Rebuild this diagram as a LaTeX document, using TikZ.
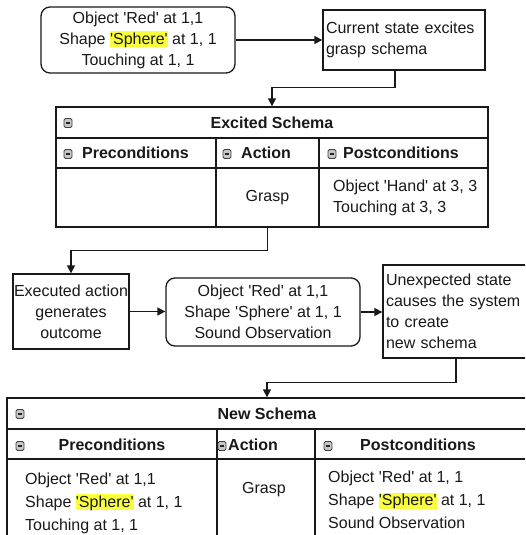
\documentclass[tikz,border=0pt]{standalone}
\usepackage{fontspec}
\setmainfont{Liberation Sans}
\usetikzlibrary{arrows.meta}
\definecolor{hly}{RGB}{250,255,60}
\definecolor{ink}{RGB}{25,25,25}
\newcommand\sq{\textquotesingle}
\newcommand\hlword[1]{{\setlength{\fboxsep}{0pt}\colorbox{hly}{\rule[-3pt]{0pt}{16pt}#1}}}
\tikzset{
 box/.style={draw=ink, line width=1.3pt, inner sep=3pt, text=ink, font=\fontsize{16}{21}\selectfont},
 rbox/.style={box, rounded corners=9pt, align=center},
 lbox/.style={box, align=left},
 tbl/.style={draw=ink, line width=1.3pt, inner sep=0pt},
 txt/.style={inner sep=0pt, text=ink, font=\fontsize{16}{21}\selectfont},
 txtb/.style={inner sep=0pt, text=ink, font=\fontsize{16}{23}\selectfont},
 hd/.style={inner sep=0pt, text=ink, font=\fontsize{16}{21}\selectfont\bfseries},
 arr/.style={draw=ink, line width=1.3pt, -{Triangle[length=8pt,width=8pt]}},
 ln/.style={draw=ink, line width=1.3pt},
 mini/.pic={\draw[line width=0.8pt, draw=black!75, fill=black!22, rounded corners=1.5pt] (-4,-4.5) rectangle (4,4.5);
            \draw[line width=1.1pt, black!85] (-2.3,0)--(2.3,0);}
}
\begin{document}
\begin{tikzpicture}[x=1pt,y=-1pt]
\useasboundingbox (0,0) rectangle (525,535);
\fill[white] (0,0) rectangle (525,535);
\clip (0,0) rectangle (525,535);

% top row
\node[rbox, minimum width=194pt, minimum height=66pt] (top) at (138,40)
  {Object \sq Red\sq{} at 1,1\\Shape \hlword{\sq Sphere\sq} at 1, 1\\Touching at 1, 1};
\node[lbox, minimum width=162pt, minimum height=60pt, text width=156pt] (cur) at (404,40)
  {Current state excites\\grasp schema};
\draw[arr] (top.east) -- (cur.west |- top.east);

% Excited schema table
\node[tbl, minimum width=432pt, minimum height=120pt] (ex) at (272,167) {};
\draw[ln] (56,138) -- (488,138);
\draw[ln] (56,168) -- (488,168);
\draw[ln] (216,138) -- (216,227);
\draw[ln] (319,138) -- (319,227);
\pic at (68,123) {mini};
\node[hd] (exT) at (272,123) {Excited Schema};
\pic at (68,154) {mini};
\node[hd, anchor=west] (exP) at (82,153) {Preconditions};
\pic at (227,154) {mini};
\node[hd, anchor=west] (exA) at (241,153) {Action};
\pic at (332,154) {mini};
\node[hd, anchor=west] (exQ) at (343,153) {Postconditions};
\node[txt, minimum width=103pt, minimum height=59pt] (exact) at (267.5,197.5) {Grasp};
\node[txt, anchor=west, align=left] (expost) at (333,198) {Object \sq Hand\sq{} at 3, 3\\Touching at 3, 3};

\draw[arr] ([xshift=-9pt]cur.south) -- ++(0,17) -| (ex.north);

% middle row
\node[box, align=center, minimum width=116pt, minimum height=75pt, inner sep=0pt] (exe) at (71,311.5)
  {Executed action\\generates\\outcome};
\node[rbox, minimum width=194pt, minimum height=68pt] (mid) at (263,312)
  {Object \sq Red\sq{} at 1,1\\Shape \sq Sphere\sq{} at 1, 1\\Sound Observation};
\node[lbox, minimum width=146pt, minimum height=93pt, text width=140pt] (unx) at (456,311.5)
  {Unexpected state\\causes the system\\to create\\new schema};

\draw[arr] (exact.south) -- ++(0,23) -| (exe.north);
\draw[arr] (exe.east) -- (exe.east -| mid.west);
\draw[arr] (mid.east) -- (mid.east -| unx.west);

% New schema table
\node[tbl, minimum width=520pt, minimum height=200pt] (new) at (267,498) {};
\draw[ln] (7,429) -- (527,429);
\draw[ln] (7,459) -- (527,459);
\draw[ln] (217,429) -- (217,598);
\draw[ln] (315,429) -- (315,598);
\pic at (20,414) {mini};
\node[hd] (nT) at (267,414) {New Schema};
\pic at (20,446) {mini};
\node[hd] (nP) at (112,445) {Preconditions};
\pic at (222,446) {mini};
\node[hd, anchor=west] (nA) at (228,445) {Action};
\pic at (328,446) {mini};
\node[hd] (nQ) at (418,445) {Postconditions};
\node[txtb, anchor=west, align=left] (npre) at (25,503)
  {Object \sq Red\sq{} at 1,1\\Shape \hlword{\sq Sphere\sq} at 1, 1\\Touching at 1, 1};
\node[txt] (ngr) at (264,490) {Grasp};
\node[txtb, anchor=west, align=left] (npost) at (328,500)
  {Object \sq Red\sq{} at 1, 1\\Shape \hlword{\sq Sphere\sq} at 1, 1\\Sound Observation};

\draw[arr] (unx.south) -- ++(0,24) -| (new.north);
\end{tikzpicture}
\end{document}
